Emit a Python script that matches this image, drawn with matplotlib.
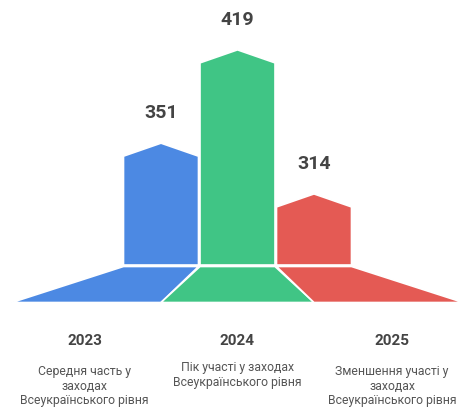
import matplotlib
matplotlib.use("Agg")
import matplotlib.pyplot as plt
from matplotlib.patches import Polygon

years = ["2023", "2024", "2025"]
values = [351, 419, 314]
descriptions = [
    "Середня часть у\nзаходах\nВсеукраїнського рівня",
    "Пік участі у заходах\nВсеукраїнського рівня",
    "Зменшення участі у\nзаходах\nВсеукраїнського рівня",
]
colors = ["#4C89E3", "#40C585", "#E45A54"]

plt.rcParams['font.family'] = ['Roboto', 'DejaVu Sans']

W, H, DPI = 459, 407, 100
fig = plt.figure(figsize=(W / DPI, H / DPI), dpi=DPI)
ax = fig.add_axes([0, 0, 1, 1])

# scale: 76.5 px per category, 1.372 px per value unit, baseline 262 at pixel row 265
px_x, px_y = 76.5, 1.372
base = 262.2
x0_px, base_px = 161, 265
ax.set_xlim(-x0_px / px_x, (W - x0_px) / px_x)
ax.set_ylim(base - (H - base_px) / px_y, base + base_px / px_y)
ax.axis("off")

bw = 75 / px_x
shoulder = 13 / px_y
gap = 1.5 / px_y
trap_h = 36 / px_y
spread = 1.95

for i, (v, c) in enumerate(zip(values, colors)):
    l, r = i - bw / 2, i + bw / 2
    bar = Polygon([(l, base), (l, v - shoulder), (i, v), (r, v - shoulder), (r, base)],
                  closed=True, facecolor=c, edgecolor="white", linewidth=1.2)
    ax.add_patch(bar)
    top = base - gap
    bot = top - trap_h
    if i == 0:
        bl, br = i - spread, i
    elif i == len(values) - 1:
        bl, br = i, i + spread
    else:
        bl, br = i - 1, i + 1
    trap = Polygon([(l, top), (r, top), (br, bot), (bl, bot)], closed=True,
                   facecolor=c, edgecolor="white", linewidth=1.2)
    ax.add_patch(trap)
    ax.annotate(str(v), (i, v), xytext=(0, 30 * 72 / DPI), textcoords="offset points",
                ha="center", va="center", fontsize=14, fontweight="bold", color="#444444")

label_x = [-1, 1, 3.02]
for i, (yr, d) in enumerate(zip(years, descriptions)):
    lx = label_x[i]
    ax.text(lx, base - (341 - base_px) / px_y, yr, ha="center", va="center",
            fontsize=11, fontweight="bold", color="#444444")
    mid_px = 375 if d.count("\n") == 1 else 386
    ax.text(lx, base - (mid_px - base_px) / px_y, d, ha="center", va="center",
            fontsize=8.8, color="#555555", linespacing=1.12)

fig.savefig("out.png", dpi=DPI)
